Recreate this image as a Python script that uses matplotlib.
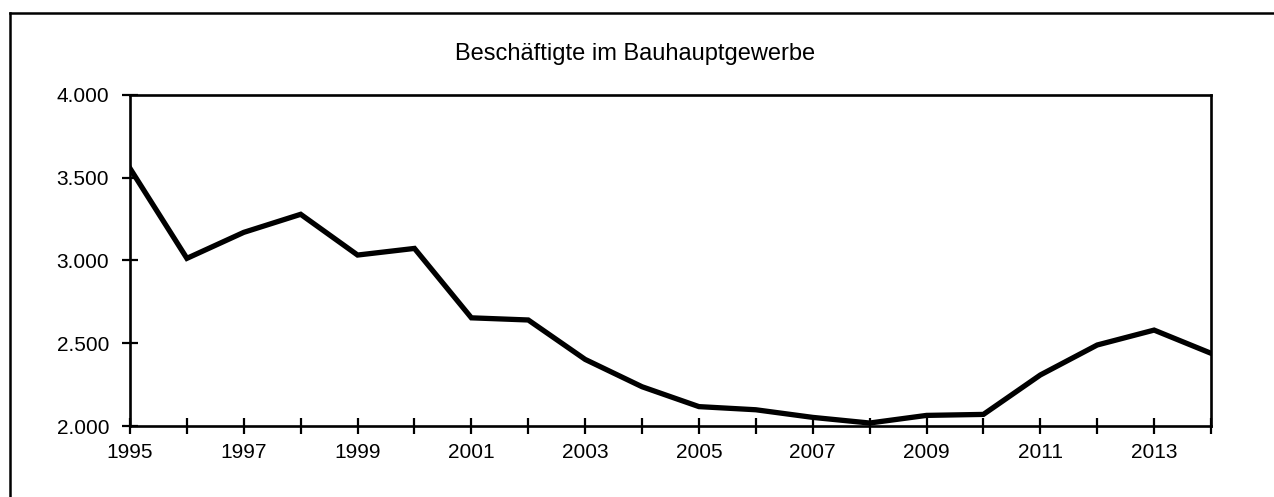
import matplotlib
matplotlib.use("Agg")
import matplotlib.pyplot as plt
from matplotlib.ticker import FuncFormatter, MultipleLocator
from matplotlib.lines import Line2D

years = list(range(1995, 2015))
employees = [3555, 3012, 3169, 3278, 3032, 3072, 2653, 2640, 2402, 2237,
             2117, 2098, 2052, 2018, 2064, 2070, 2308, 2489, 2579, 2439]
title = "Beschäftigte im Bauhauptgewerbe"
year_labels = [str(y) for y in range(1995, 2015, 2)]

plt.rcParams['font.family'] = ['Liberation Sans', 'DejaVu Sans']

W, H = 1274, 497
fig = plt.figure(figsize=(W / 100, H / 100), dpi=100)
ax = fig.add_axes([130 / W, 1 - 426 / H, (1211 - 130) / W, (426 - 94.7) / H])

ax.plot(years, employees, color='black', lw=3.8, solid_joinstyle='miter')
ax.set_xlim(1995, 2014)
ax.set_ylim(2000, 4000)
ax.set_xticks(years)
ax.set_xticklabels([str(y) if str(y) in year_labels else '' for y in years])
ax.yaxis.set_major_locator(MultipleLocator(500))
ax.yaxis.set_major_formatter(FuncFormatter(lambda v, p: f"{int(v):,}".replace(',', '.')))
ax.tick_params(axis='both', direction='inout', length=12, width=1.6,
               labelsize=15, colors='black')
ax.tick_params(axis='x', pad=6)
ax.tick_params(axis='y', pad=9)
for s in ax.spines.values():
    s.set_linewidth(1.9)

fig.text(635 / W, 1 - 60 / H, title, ha='center', va='baseline', fontsize=17)

# outer frame (top and left edges visible)
fig.add_artist(Line2D([10 / W, 1.0], [1 - 13 / H, 1 - 13 / H], color='black', lw=1.8,
                      transform=fig.transFigure))
fig.add_artist(Line2D([10 / W, 10 / W], [0, 1 - 13 / H], color='black', lw=1.8,
                      transform=fig.transFigure))

fig.savefig("out.png", dpi=100)
